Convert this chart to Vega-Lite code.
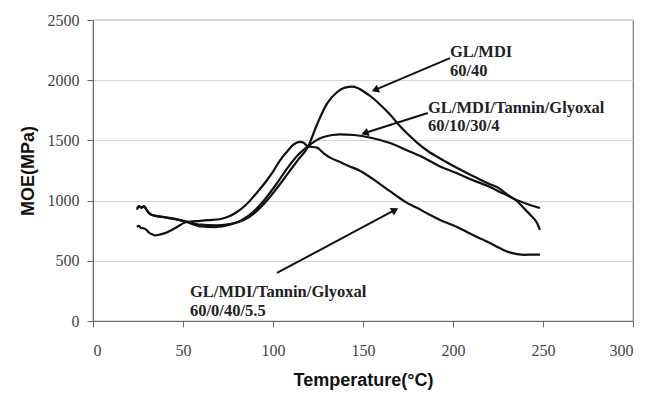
{
  "$schema": "https://vega.github.io/schema/vega-lite/v6.json",
  "width": 540,
  "height": 301,
  "autosize": "none",
  "padding": {"left": 93, "top": 20, "right": 13, "bottom": 75},
  "background": "white",
  "config": {
    "view": {"stroke": "#777", "strokeWidth": 1.2},
    "axis": {
      "labelFont": "Liberation Serif",
      "labelFontSize": 16,
      "labelColor": "#444",
      "titleFont": "Liberation Sans",
      "titleFontWeight": "bold",
      "titleFontSize": 18,
      "titleColor": "#111",
      "domainColor": "#666",
      "tickColor": "#666",
      "tickSize": 6,
      "gridColor": "#d4d4d4",
      "gridWidth": 1
    }
  },
  "datasets": {
    "curves": [
      {"s": "A", "T": 24.4, "MOE": 925}, {"s": "A", "T": 25.5, "MOE": 955}, {"s": "A", "T": 26.5, "MOE": 945}, {"s": "A", "T": 28, "MOE": 950}, {"s": "A", "T": 29.5, "MOE": 930}, {"s": "A", "T": 31, "MOE": 900}, {"s": "A", "T": 33, "MOE": 880}, {"s": "A", "T": 40, "MOE": 862}, {"s": "A", "T": 48, "MOE": 840}, {"s": "A", "T": 52, "MOE": 825}, {"s": "A", "T": 60, "MOE": 800}, {"s": "A", "T": 68, "MOE": 795}, {"s": "A", "T": 76, "MOE": 805}, {"s": "A", "T": 84, "MOE": 840}, {"s": "A", "T": 90, "MOE": 900}, {"s": "A", "T": 96, "MOE": 990}, {"s": "A", "T": 102, "MOE": 1100}, {"s": "A", "T": 108, "MOE": 1220}, {"s": "A", "T": 114, "MOE": 1340}, {"s": "A", "T": 119.4, "MOE": 1445}, {"s": "A", "T": 124.4, "MOE": 1630}, {"s": "A", "T": 130, "MOE": 1805}, {"s": "A", "T": 135.5, "MOE": 1900}, {"s": "A", "T": 140, "MOE": 1938}, {"s": "A", "T": 144, "MOE": 1946}, {"s": "A", "T": 147, "MOE": 1935}, {"s": "A", "T": 151, "MOE": 1900}, {"s": "A", "T": 155.6, "MOE": 1850}, {"s": "A", "T": 160, "MOE": 1790}, {"s": "A", "T": 165, "MOE": 1715}, {"s": "A", "T": 169, "MOE": 1645}, {"s": "A", "T": 174, "MOE": 1565}, {"s": "A", "T": 180, "MOE": 1482}, {"s": "A", "T": 186, "MOE": 1412}, {"s": "A", "T": 192.8, "MOE": 1350}, {"s": "A", "T": 200, "MOE": 1290}, {"s": "A", "T": 211, "MOE": 1205}, {"s": "A", "T": 220, "MOE": 1140}, {"s": "A", "T": 226, "MOE": 1098}, {"s": "A", "T": 230, "MOE": 1052}, {"s": "A", "T": 235.6, "MOE": 995}, {"s": "A", "T": 239, "MOE": 942}, {"s": "A", "T": 243, "MOE": 880}, {"s": "A", "T": 246.7, "MOE": 814}, {"s": "A", "T": 248.3, "MOE": 756},
      {"s": "B", "T": 24.4, "MOE": 935}, {"s": "B", "T": 25.8, "MOE": 950}, {"s": "B", "T": 27, "MOE": 940}, {"s": "B", "T": 28.5, "MOE": 955}, {"s": "B", "T": 30, "MOE": 915}, {"s": "B", "T": 32, "MOE": 885}, {"s": "B", "T": 34, "MOE": 875}, {"s": "B", "T": 40, "MOE": 860}, {"s": "B", "T": 48, "MOE": 838}, {"s": "B", "T": 52, "MOE": 822}, {"s": "B", "T": 60, "MOE": 785}, {"s": "B", "T": 68, "MOE": 780}, {"s": "B", "T": 76, "MOE": 800}, {"s": "B", "T": 84, "MOE": 850}, {"s": "B", "T": 90, "MOE": 920}, {"s": "B", "T": 96, "MOE": 1020}, {"s": "B", "T": 102, "MOE": 1140}, {"s": "B", "T": 108, "MOE": 1270}, {"s": "B", "T": 114, "MOE": 1380}, {"s": "B", "T": 119.4, "MOE": 1450}, {"s": "B", "T": 124, "MOE": 1500}, {"s": "B", "T": 128, "MOE": 1528}, {"s": "B", "T": 133, "MOE": 1545}, {"s": "B", "T": 137, "MOE": 1550}, {"s": "B", "T": 145, "MOE": 1545}, {"s": "B", "T": 155, "MOE": 1520}, {"s": "B", "T": 165, "MOE": 1478}, {"s": "B", "T": 174, "MOE": 1420}, {"s": "B", "T": 183, "MOE": 1362}, {"s": "B", "T": 192, "MOE": 1290}, {"s": "B", "T": 202, "MOE": 1229}, {"s": "B", "T": 211, "MOE": 1170}, {"s": "B", "T": 220.6, "MOE": 1113}, {"s": "B", "T": 226, "MOE": 1072}, {"s": "B", "T": 230, "MOE": 1045}, {"s": "B", "T": 235.6, "MOE": 1003}, {"s": "B", "T": 242, "MOE": 968}, {"s": "B", "T": 248.3, "MOE": 938},
      {"s": "C", "T": 24.4, "MOE": 781}, {"s": "C", "T": 25.5, "MOE": 790}, {"s": "C", "T": 26.5, "MOE": 775}, {"s": "C", "T": 28, "MOE": 770}, {"s": "C", "T": 29.5, "MOE": 760}, {"s": "C", "T": 31, "MOE": 735}, {"s": "C", "T": 33, "MOE": 720}, {"s": "C", "T": 34.5, "MOE": 712}, {"s": "C", "T": 37, "MOE": 718}, {"s": "C", "T": 40, "MOE": 730}, {"s": "C", "T": 45.5, "MOE": 770}, {"s": "C", "T": 52, "MOE": 822}, {"s": "C", "T": 59.4, "MOE": 832}, {"s": "C", "T": 64, "MOE": 838}, {"s": "C", "T": 70.5, "MOE": 845}, {"s": "C", "T": 75, "MOE": 865}, {"s": "C", "T": 80, "MOE": 905}, {"s": "C", "T": 85, "MOE": 965}, {"s": "C", "T": 89, "MOE": 1030}, {"s": "C", "T": 93, "MOE": 1100}, {"s": "C", "T": 96.7, "MOE": 1171}, {"s": "C", "T": 100, "MOE": 1240}, {"s": "C", "T": 104, "MOE": 1337}, {"s": "C", "T": 108, "MOE": 1410}, {"s": "C", "T": 111, "MOE": 1460}, {"s": "C", "T": 115, "MOE": 1487}, {"s": "C", "T": 117, "MOE": 1480}, {"s": "C", "T": 119.4, "MOE": 1450}, {"s": "C", "T": 124.4, "MOE": 1440}, {"s": "C", "T": 128, "MOE": 1395}, {"s": "C", "T": 132, "MOE": 1355}, {"s": "C", "T": 137, "MOE": 1322}, {"s": "C", "T": 142, "MOE": 1288}, {"s": "C", "T": 148, "MOE": 1250}, {"s": "C", "T": 155.6, "MOE": 1178}, {"s": "C", "T": 162, "MOE": 1110}, {"s": "C", "T": 169, "MOE": 1035}, {"s": "C", "T": 174, "MOE": 985}, {"s": "C", "T": 180, "MOE": 940}, {"s": "C", "T": 186, "MOE": 890}, {"s": "C", "T": 192.8, "MOE": 839}, {"s": "C", "T": 200, "MOE": 795}, {"s": "C", "T": 205, "MOE": 760}, {"s": "C", "T": 211, "MOE": 715}, {"s": "C", "T": 216, "MOE": 680}, {"s": "C", "T": 220.6, "MOE": 648}, {"s": "C", "T": 225, "MOE": 612}, {"s": "C", "T": 228, "MOE": 590}, {"s": "C", "T": 231, "MOE": 572}, {"s": "C", "T": 235.6, "MOE": 556}, {"s": "C", "T": 240, "MOE": 550}, {"s": "C", "T": 244, "MOE": 552}, {"s": "C", "T": 248.3, "MOE": 552}
    ],
    "arrows": [
      {"id": "a1", "T1": 198.3, "M1": 2184, "T2": 156.7, "M2": 1919},
      {"id": "a2", "T1": 186, "M1": 1728, "T2": 151, "M2": 1561},
      {"id": "a3", "T1": 102.2, "M1": 399, "T2": 167.8, "M2": 922}
    ],
    "labels": [
      {"T": 198.3, "MOE": 2193, "text": "GL/MDI"},
      {"T": 198.3, "MOE": 2035, "text": "60/40"},
      {"T": 186.1, "MOE": 1728, "text": "GL/MDI/Tannin/Glyoxal"},
      {"T": 186.1, "MOE": 1578, "text": "60/10/30/4"},
      {"T": 53.9, "MOE": 199, "text": "GL/MDI/Tannin/Glyoxal"},
      {"T": 53.9, "MOE": 42, "text": "60/0/40/5.5"}
    ]
  },
  "layer": [
    {
      "data": {"name": "curves"},
      "mark": {"type": "line", "color": "#111", "strokeWidth": 2.2, "interpolate": "monotone"},
      "encoding": {
        "x": {"field": "T", "type": "quantitative", "scale": {"domain": [0, 300], "nice": false}, "axis": {"title": "Temperature(°C)", "values": [0, 50, 100, 150, 200, 250, 300], "format": "d", "grid": false, "labelFont": "Liberation Serif", "labelPadding": 15, "titlePadding": 13}},
        "y": {"field": "MOE", "type": "quantitative", "scale": {"domain": [0, 2500], "nice": false}, "axis": {"title": "MOE(MPa)", "values": [0, 500, 1000, 1500, 2000, 2500], "format": "d", "grid": true, "labelFont": "Liberation Serif", "labelPadding": 8, "titlePadding": 10}},
        "detail": {"field": "s"}
      }
    },
    {
      "data": {"name": "arrows"},
      "mark": {"type": "rule", "color": "#111", "strokeWidth": 2},
      "encoding": {
        "x": {"field": "T1", "type": "quantitative"},
        "y": {"field": "M1", "type": "quantitative"},
        "x2": {"field": "T2"},
        "y2": {"field": "M2"}
      }
    },
    {
      "data": {"name": "arrows"},
      "transform": [{"filter": "datum.id === 'a1'"}],
      "mark": {"type": "point", "shape": "triangle-up", "filled": true, "color": "#111", "size": 70, "angle": 247, "opacity": 1},
      "encoding": {"x": {"field": "T2", "type": "quantitative"}, "y": {"field": "M2", "type": "quantitative"}}
    },
    {
      "data": {"name": "arrows"},
      "transform": [{"filter": "datum.id === 'a2'"}],
      "mark": {"type": "point", "shape": "triangle-up", "filled": true, "color": "#111", "size": 70, "angle": 252, "opacity": 1},
      "encoding": {"x": {"field": "T2", "type": "quantitative"}, "y": {"field": "M2", "type": "quantitative"}}
    },
    {
      "data": {"name": "arrows"},
      "transform": [{"filter": "datum.id === 'a3'"}],
      "mark": {"type": "point", "shape": "triangle-up", "filled": true, "color": "#111", "size": 70, "angle": 62, "opacity": 1},
      "encoding": {"x": {"field": "T2", "type": "quantitative"}, "y": {"field": "M2", "type": "quantitative"}}
    },
    {
      "data": {"name": "labels"},
      "mark": {"type": "text", "align": "left", "baseline": "alphabetic", "font": "Liberation Serif", "fontWeight": "bold", "fontSize": 16.5, "color": "#222"},
      "encoding": {
        "x": {"field": "T", "type": "quantitative"},
        "y": {"field": "MOE", "type": "quantitative"},
        "text": {"field": "text"}
      }
    }
  ]
}
